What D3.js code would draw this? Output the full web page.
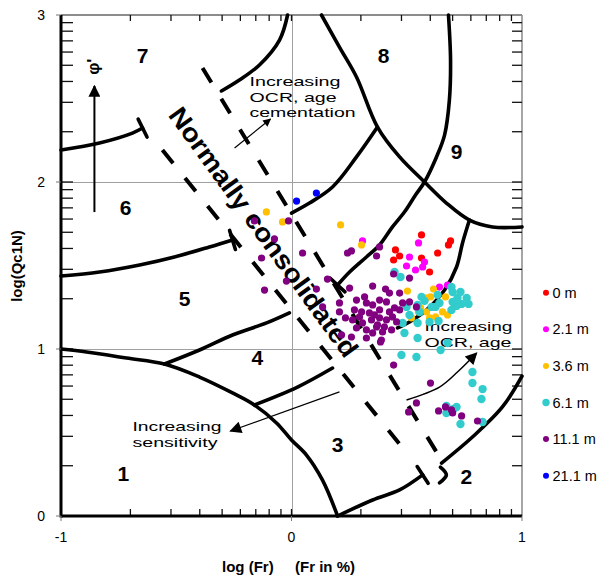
<!DOCTYPE html>
<html><head><meta charset="utf-8">
<script src="https://cdn.jsdelivr.net/npm/d3@7"></script>
<style>
body{margin:0;background:#fff;}
svg{display:block;font-family:"Liberation Sans",Arial,Helvetica,sans-serif;}
</style>
</head><body>
<svg id="chart" width="598" height="575"></svg>
<script>
// ---------------- data (log Fr, log Qc1N) ----------------
const seriesNames  = ["0 m","2.1 m","3.6 m","6.1 m","11.1 m","21.1 m"];
const seriesColors = ["#ff0000","#ff00ff","#ffc000","#33cccc","#800080","#0000ff"];

const pts0m = [[0.564,1.683],[0.690,1.647],[0.681,1.623],[0.451,1.593],[0.469,1.557],[0.443,1.533],[0.564,1.545],[0.634,1.575],[0.599,1.461]];
const pts2m = [[0.308,1.647],[0.551,1.635],[0.512,1.551],[0.499,1.497],[0.538,1.473],[0.569,1.491],[0.577,1.521],[0.642,1.371],[0.677,1.383]];
const pts3m = [[-0.109,1.821],[-0.039,1.761],[0.213,1.743],[0.304,1.623],[0.503,1.347],[0.616,1.359],[0.603,1.312],[0.668,1.312],[0.551,1.222],[0.586,1.222],[0.599,1.186],[0.625,1.192],[0.655,1.222],[0.677,1.204],[0.560,1.246],[0.586,1.306],[0.521,1.186]];
const pts6m = [[0.694,1.371],[0.699,1.341],[0.720,1.306],[0.760,1.306],[0.768,1.270],[0.738,1.270],[0.699,1.282],[0.716,1.258],[0.694,1.234],[0.564,1.312],[0.577,1.288],[0.625,1.252],[0.634,1.324],[0.638,1.168],[0.447,1.461],[0.473,1.431],[0.642,1.276],[0.547,1.264],[0.499,1.252],[0.512,1.204],[0.556,1.222],[0.482,1.156],[0.547,1.156],[0.490,1.096],[0.547,1.066],[0.608,1.252],[0.599,1.162],[0.477,0.964],[0.542,0.952],[0.647,0.994],[0.677,1.036],[0.785,0.862],[0.785,0.796],[0.829,0.760],[0.824,0.701],[0.672,0.659],[0.703,0.641],[0.716,0.653],[0.672,0.617],[0.733,0.551],[0.829,0.563],[0.733,1.341]];
const pts11m = [[-0.161,1.767],[-0.013,1.767],[-0.074,1.659],[-0.130,1.545],[0.048,1.575],[-0.022,1.407],[-0.117,1.353],[0.108,1.359],[0.156,1.419],[0.243,1.575],[0.260,1.587],[0.369,1.557],[0.382,1.611],[0.252,1.365],[0.352,1.377],[0.443,1.449],[0.512,1.425],[0.469,1.335],[0.135,1.252],[0.208,1.276],[0.408,1.359],[0.217,1.084],[0.260,1.072],[0.386,1.042],[0.425,1.335],[0.208,1.222],[0.273,1.234],[0.325,1.276],[0.352,1.264],[0.382,1.293],[0.412,1.282],[0.482,1.276],[0.512,1.282],[0.542,1.252],[0.469,1.234],[0.425,1.222],[0.382,1.234],[0.338,1.216],[0.295,1.192],[0.265,1.174],[0.308,1.156],[0.347,1.174],[0.382,1.186],[0.412,1.174],[0.438,1.192],[0.456,1.162],[0.403,1.132],[0.369,1.132],[0.325,1.114],[0.282,1.126],[0.352,1.096],[0.395,1.102],[0.434,1.114],[0.390,1.054],[0.325,1.066],[0.373,1.144],[0.304,1.222],[0.360,1.204],[0.447,1.246],[0.317,1.312],[0.282,1.293],[0.234,1.186],[0.443,0.904],[0.603,0.796],[0.542,0.677],[0.508,0.623],[0.638,0.629],[0.668,0.653],[0.694,0.635],[0.699,0.617],[0.738,0.599],[0.807,0.569]];
const pts21m = [[0.022,1.886],[0.108,1.934]];
const seriesData = [pts0m, pts2m, pts3m, pts6m, pts11m, pts21m];

const xTicks = [-1, 0, 1];
const yTicks = [0, 1, 2, 3];

// ---------------- soil behaviour type chart boundaries (log Fr, log Q) ----------------
const bZone1   = [[-1.0,1.0],[-0.889,0.982],[-0.716,0.946],[-0.551,0.910],[-0.399,0.832],[-0.256,0.737],[-0.161,0.665],[-0.065,0.557],[0.0,0.455],[0.065,0.365],[0.134,0.216],[0.20,0.0]];
const bZone23  = [[0.20,0.0],[0.352,0.096],[0.469,0.156],[0.569,0.246]];
const bZone2   = [[0.651,0.317],[0.785,0.473],[0.915,0.653],[1.0,0.838]];
const bZone34  = [[-0.161,0.665],[0.026,0.772],[0.178,0.886]];
const bZone45  = [[-0.551,0.910],[-0.399,0.994],[-0.256,1.084],[-0.108,1.156],[-0.009,1.216]];
const bZone56  = [[-1.0,1.437],[-0.833,1.461],[-0.659,1.503],[-0.508,1.551],[-0.356,1.611],[-0.256,1.653]];
const bZone67  = [[-1.0,2.192],[-0.833,2.234],[-0.690,2.293],[-0.646,2.323]];
const bZone78  = [[-0.017,3.0],[-0.052,2.850],[-0.139,2.701],[-0.226,2.611],[-0.304,2.545]];
const bZone89  = [[0.13,3.0],[0.208,2.808],[0.282,2.629],[0.373,2.329],[0.469,2.150],[0.577,2.0],[0.672,1.874],[0.772,1.772],[0.872,1.731],[1.0,1.731]];
const bZoneJ   = [[0.373,2.329],[0.282,2.150],[0.178,1.970],[0.078,1.874],[0.0,1.814]];
const bZoneK   = [[0.681,3.0],[0.690,2.731],[0.685,2.491],[0.664,2.281],[0.629,2.150],[0.577,2.0],[0.538,1.922],[0.490,1.820],[0.438,1.731],[0.382,1.623],[0.325,1.551],[0.252,1.461],[0.200,1.383]];
const bZoneL   = [[0.772,1.772],[0.742,1.635],[0.716,1.491],[0.664,1.353],[0.586,1.234],[0.512,1.162],[0.460,1.126]];
const bHook    = [[0.646,0.293],[0.672,0.246],[0.642,0.198]];
const boundaries = [
  {pts:bZone1, t:false},{pts:bZone23, t:true},{pts:bZone2, t:false},{pts:bZone34, t:false},
  {pts:bZone45, t:false},{pts:bZone56, t:true},{pts:bZone67, t:true},{pts:bZone78, t:false},
  {pts:bZone89, t:false},{pts:bZoneJ, t:false},{pts:bZoneK, t:true},{pts:bZoneL, t:false},{pts:bHook, t:false}
];
const ncLeft  = [[-0.560,2.192],[0.490,0.395]];
const ncRight = [[-0.386,2.683],[0.629,0.383]];

const zoneLabels = ["7","6","5","4","1","3","2","8","9"];
const zoneLabelPos = [[-0.646,2.760],[-0.720,1.850],[-0.464,1.305],[-0.148,0.952],[-0.729,0.257],[0.200,0.431],[0.759,0.234],[0.399,2.760],[0.716,2.180]];

const arrowOCR1 = [[-0.247,2.204],[-0.091,2.377]];
const arrowOCR2 = [[0.499,0.695],[0.642,0.772],[0.720,0.862],[0.803,0.976]];
const arrowSens = [[0.208,0.743],[-0.265,0.509]];
const arrowPhi  = [[-0.855,1.820],[-0.855,2.575]];

const notes = [
  {lines:["Increasing","OCR, age","cementation"], at:[-0.182,2.572], lens:[91,87,106], size:13.6},
  {lines:["Increasing","OCR, age"], at:[0.577,1.105], lens:[88,87], size:13.6},
  {lines:["Increasing","sensitivity"], at:[-0.690,0.506], lens:[89,85], size:13.4}
];
const noteLineGap = 15.5;
const ncText = {text:"Normally consolidated", at:[-0.538,2.400], angle:54, len:302, size:26};

// ---------------- drawing ----------------
const svg = d3.select("#chart");
const x = d3.scaleLinear().domain([-1,1]).range([61,522]);
const y = d3.scaleLinear().domain([0,3]).range([516,15]);

const defs = svg.append("defs");
function marker(id, w, h){
  defs.append("marker").attr("id",id).attr("markerUnits","userSpaceOnUse")
    .attr("viewBox","0 0 10 10").attr("refX",9).attr("refY",5)
    .attr("markerWidth",w).attr("markerHeight",h).attr("orient","auto")
    .append("path").attr("d","M0,0 L10,5 L0,10 z").attr("fill","#000");
}
marker("ah-small",10,8);
marker("ah-big",15,12);

// gridlines
const grid = svg.append("g").attr("stroke","#a0a0a0").attr("stroke-width",1);
[1,2].forEach(v=>grid.append("line").attr("x1",x(-1)).attr("x2",x(1)).attr("y1",Math.round(y(v))+0.5).attr("y2",Math.round(y(v))+0.5));
grid.append("line").attr("x1",Math.round(x(0))+0.5).attr("x2",Math.round(x(0))+0.5).attr("y1",y(3)).attr("y2",y(0));

// frame
svg.append("line").attr("x1",x(-1)).attr("x2",x(1)).attr("y1",y(3)).attr("y2",y(3)).attr("stroke","#666").attr("stroke-width",1.5);
svg.append("line").attr("x1",x(1)).attr("x2",x(1)).attr("y1",y(3)).attr("y2",y(0)).attr("stroke","#888").attr("stroke-width",1.5);

// log minor ticks of the chart image
const tk = svg.append("g").attr("stroke","#111").attr("stroke-width",1.3);
[0,1,2].forEach(dec=>{
  for(let k=1;k<=9;k++){
    const v = dec + Math.log10(k);
    if(v<=0||v>=3) continue;
    tk.append("line").attr("x1",x(-1)).attr("x2",x(-1)+12).attr("y1",y(v)).attr("y2",y(v));
    tk.append("line").attr("x1",x(1)).attr("x2",x(1)-10).attr("y1",y(v)).attr("y2",y(v));
  }
});
[-1,0].forEach(dec=>{
  for(let k=1;k<=9;k++){
    const v = dec + Math.log10(k);
    if(v<=-1||v>=1) continue;
    tk.append("line").attr("y1",y(0)).attr("y2",y(0)-7).attr("x1",x(v)).attr("x2",x(v));
    tk.append("line").attr("y1",y(3)).attr("y2",y(3)+6).attr("x1",x(v)).attr("x2",x(v));
  }
});

// thick axes of chart image
svg.append("line").attr("x1",x(-1)).attr("x2",x(-1)).attr("y1",y(3)).attr("y2",y(0)+1.5).attr("stroke","#000").attr("stroke-width",3);
svg.append("line").attr("x1",x(-1)).attr("x2",x(1)).attr("y1",y(0)).attr("y2",y(0)).attr("stroke","#000").attr("stroke-width",3);

// boundaries
const line = d3.line().x(d=>x(d[0])).y(d=>y(d[1])).curve(d3.curveCatmullRom.alpha(0.5));
const bg = svg.append("g").attr("fill","none").attr("stroke","#000").attr("stroke-width",3.6).attr("stroke-linecap","round");
boundaries.forEach(b=>{
  bg.append("path").attr("d",line(b.pts));
  if(b.t){
    const n=b.pts.length, p1=[x(b.pts[n-1][0]),y(b.pts[n-1][1])], p0=[x(b.pts[n-2][0]),y(b.pts[n-2][1])];
    let dx=p1[0]-p0[0], dy=p1[1]-p0[1]; const L=Math.hypot(dx,dy); dx/=L; dy/=L;
    const px=-dy, py=dx;
    bg.append("line").attr("x1",p1[0]-px*10).attr("y1",p1[1]-py*10).attr("x2",p1[0]+px*10).attr("y2",p1[1]+py*10);
  }
});
const dl = d3.line().x(d=>x(d[0])).y(d=>y(d[1]));
[ncLeft,ncRight].forEach(p=>bg.append("path").attr("d",dl(p)).attr("stroke-dasharray","17,19").attr("stroke-linecap","butt").attr("stroke-width",4));

// arrows
const ag = svg.append("g").attr("fill","none").attr("stroke","#000");
ag.append("path").attr("d",dl(arrowOCR1)).attr("stroke-width",1.2).attr("marker-end","url(#ah-small)");
ag.append("path").attr("d",d3.line().x(d=>x(d[0])).y(d=>y(d[1])).curve(d3.curveCatmullRom)(arrowOCR2)).attr("stroke-width",1.5).attr("marker-end","url(#ah-big)");
ag.append("path").attr("d",dl(arrowSens)).attr("stroke-width",1.2).attr("marker-end","url(#ah-big)");
ag.append("path").attr("d",dl(arrowPhi)).attr("stroke-width",2).attr("marker-end","url(#ah-big)");

// texts on the chart image
svg.append("text").attr("transform",`translate(${x(-0.855)+5},${y(2.69)}) rotate(-90)`)
  .attr("text-anchor","middle").attr("font-size",17).attr("font-weight","bold").text("φ'");
svg.append("g").selectAll("text").data(zoneLabels).join("text")
  .attr("x",(d,i)=>x(zoneLabelPos[i][0])).attr("y",(d,i)=>y(zoneLabelPos[i][1]))
  .attr("text-anchor","middle").attr("dominant-baseline","central")
  .attr("font-size",21).attr("font-weight","bold").text(d=>d);
notes.forEach(nt=>{
  const t = svg.append("text").attr("font-size",nt.size);
  nt.lines.forEach((ln,j)=>{
    t.append("tspan").attr("x",x(nt.at[0])).attr("y",y(nt.at[1])+j*noteLineGap)
      .attr("textLength",nt.lens[j]).attr("lengthAdjust","spacingAndGlyphs").text(ln);
  });
});
svg.append("text").attr("transform",`translate(${x(ncText.at[0])},${y(ncText.at[1])}) rotate(${ncText.angle})`)
  .attr("font-size",ncText.size).attr("font-weight","bold")
  .attr("textLength",ncText.len).attr("lengthAdjust","spacingAndGlyphs").text(ncText.text);

// data series
const sg = svg.append("g");
seriesData.forEach((s,i)=>{
  sg.append("g").selectAll("circle").data(s).join("circle")
    .attr("cx",d=>x(d[0])).attr("cy",d=>y(d[1]))
    .attr("r", i===3?4.2:3.6).attr("fill",seriesColors[i]);
});

// axes labels (Excel)
const ax = svg.append("g").attr("font-size",14).attr("fill","#000");
ax.selectAll(".yl").data(yTicks).join("text").attr("x",45).attr("y",d=>y(d)+5).attr("text-anchor","end").text(d=>d);
ax.selectAll(".xl").data(xTicks).join("text").attr("x",d=>x(d)).attr("y",542).attr("text-anchor","middle").text(d=>d);
const tg = svg.append("g").attr("stroke","#777");
yTicks.forEach(v=>tg.append("line").attr("x1",x(-1)-5).attr("x2",x(-1)).attr("y1",y(v)).attr("y2",y(v)));
xTicks.forEach(v=>tg.append("line").attr("x1",x(v)).attr("x2",x(v)).attr("y1",y(0)).attr("y2",y(0)+5));

svg.append("text").attr("transform","translate(22,266) rotate(-90)").attr("text-anchor","middle")
  .attr("font-size",15).attr("font-weight","bold").text("log(Qc1N)");
svg.append("text").attr("x",222).attr("y",572).attr("font-size",15).attr("font-weight","bold").text("log (Fr)");
svg.append("text").attr("x",295).attr("y",572).attr("font-size",15).attr("font-weight","bold").text("(Fr in %)");

// legend
const lg = svg.append("g");
seriesNames.forEach((n,i)=>{
  const yy = 292.7 + i*36.6;
  lg.append("circle").attr("cx",546).attr("cy",yy).attr("r",i===3?3.7:3).attr("fill",seriesColors[i]);
  lg.append("text").attr("x",552.5).attr("y",yy+5).attr("font-size",14.5).text(n);
});
</script>
</body></html>
